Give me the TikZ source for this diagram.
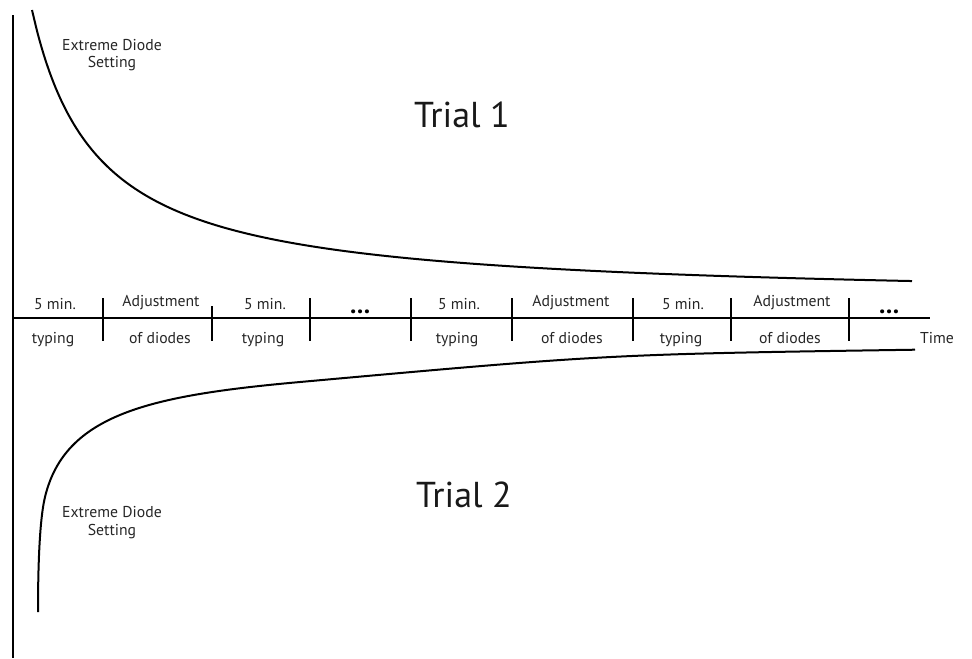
\documentclass[tikz,border=0pt]{standalone}
\usepackage{fontspec}
\setmainfont{PT Sans}
\begin{document}
\begin{tikzpicture}[x=0.75pt,y=-0.75pt,
  line/.style={line width=1.5pt, line cap=butt},
  curveline/.style={line width=1.5pt, line cap=butt},
  tick/.style={line width=1.5pt},
  lbl/.style={anchor=base, inner sep=0pt, font=\fontsize{11.8}{13}\selectfont, text=black!85},
  trial/.style={anchor=base, inner sep=0pt, font=\fontsize{27}{30}\selectfont, text=black!90},
  dots/.style={anchor=base, inner sep=0pt, font=\fontsize{19}{20}\selectfont\bfseries}]
\useasboundingbox (0,0) rectangle (972,658);
% axes
\coordinate (vtop) at (13,15);
\coordinate (vbot) at (13,658);
\coordinate (hl) at (13,318);
\coordinate (hr) at (930,318);
\draw[line] (vtop) -- (vbot);
\draw[line] (hl) -- (hr);
% ticks
\foreach \x/\t in {103/298,212/306,310/298,411/298,512/298,633/298,731/298,849/298}{
  \draw[tick] (\x,\t) -- (\x,341);
}
% labels
\node[lbl] (a1) at (55,309) {5 min.};
\node[lbl] (b1) at (53,343) {typing};
\node[lbl] (a2) at (161,306) {Adjustment};
\node[lbl] (b2) at (160,343) {of diodes};
\node[lbl] (a3) at (265,309) {5 min.};
\node[lbl] (b3) at (263,343) {typing};
\node[dots] (d1) at (360,313) {…};
\node[lbl] (a4) at (459,309) {5 min.};
\node[lbl] (b4) at (457,343) {typing};
\node[lbl] (a5) at (571,306) {Adjustment};
\node[lbl] (b5) at (572,343) {of diodes};
\node[lbl] (a6) at (683,309) {5 min.};
\node[lbl] (b6) at (681,343) {typing};
\node[lbl] (a7) at (792,306) {Adjustment};
\node[lbl] (b7) at (790,343) {of diodes};
\node[dots] (d2) at (889,313) {…};
\node[lbl] (time) at (937,343) {Time};
% trials
\node[trial] (t1) at (462,127) {Trial 1};
\node[trial] (t2) at (464,507) {Trial 2};
% extreme labels
\node[lbl] (e1a) at (112,50) {Extreme Diode};
\node[lbl] (e1b) at (112,67) {Setting};
\node[lbl] (e2a) at (112,517) {Extreme Diode};
\node[lbl] (e2b) at (112,535) {Setting};
% curves
\draw[curveline] plot[domain=32:912, samples=150, smooth] (\x,{301-188.55/((\x+32.8)/100)});
\coordinate (c0) at (38,612);
\coordinate (c1) at (45,497);
\coordinate (c2) at (300,382);
\coordinate (c3) at (915,349.7);
\draw[curveline] (c0) .. controls (38,575) and (39,521.9) .. (c1)
  .. controls (65,414) and (150,395.5) .. (c2)
  .. controls (607.5,354.3) .. (c3);
\end{tikzpicture}
\end{document}
